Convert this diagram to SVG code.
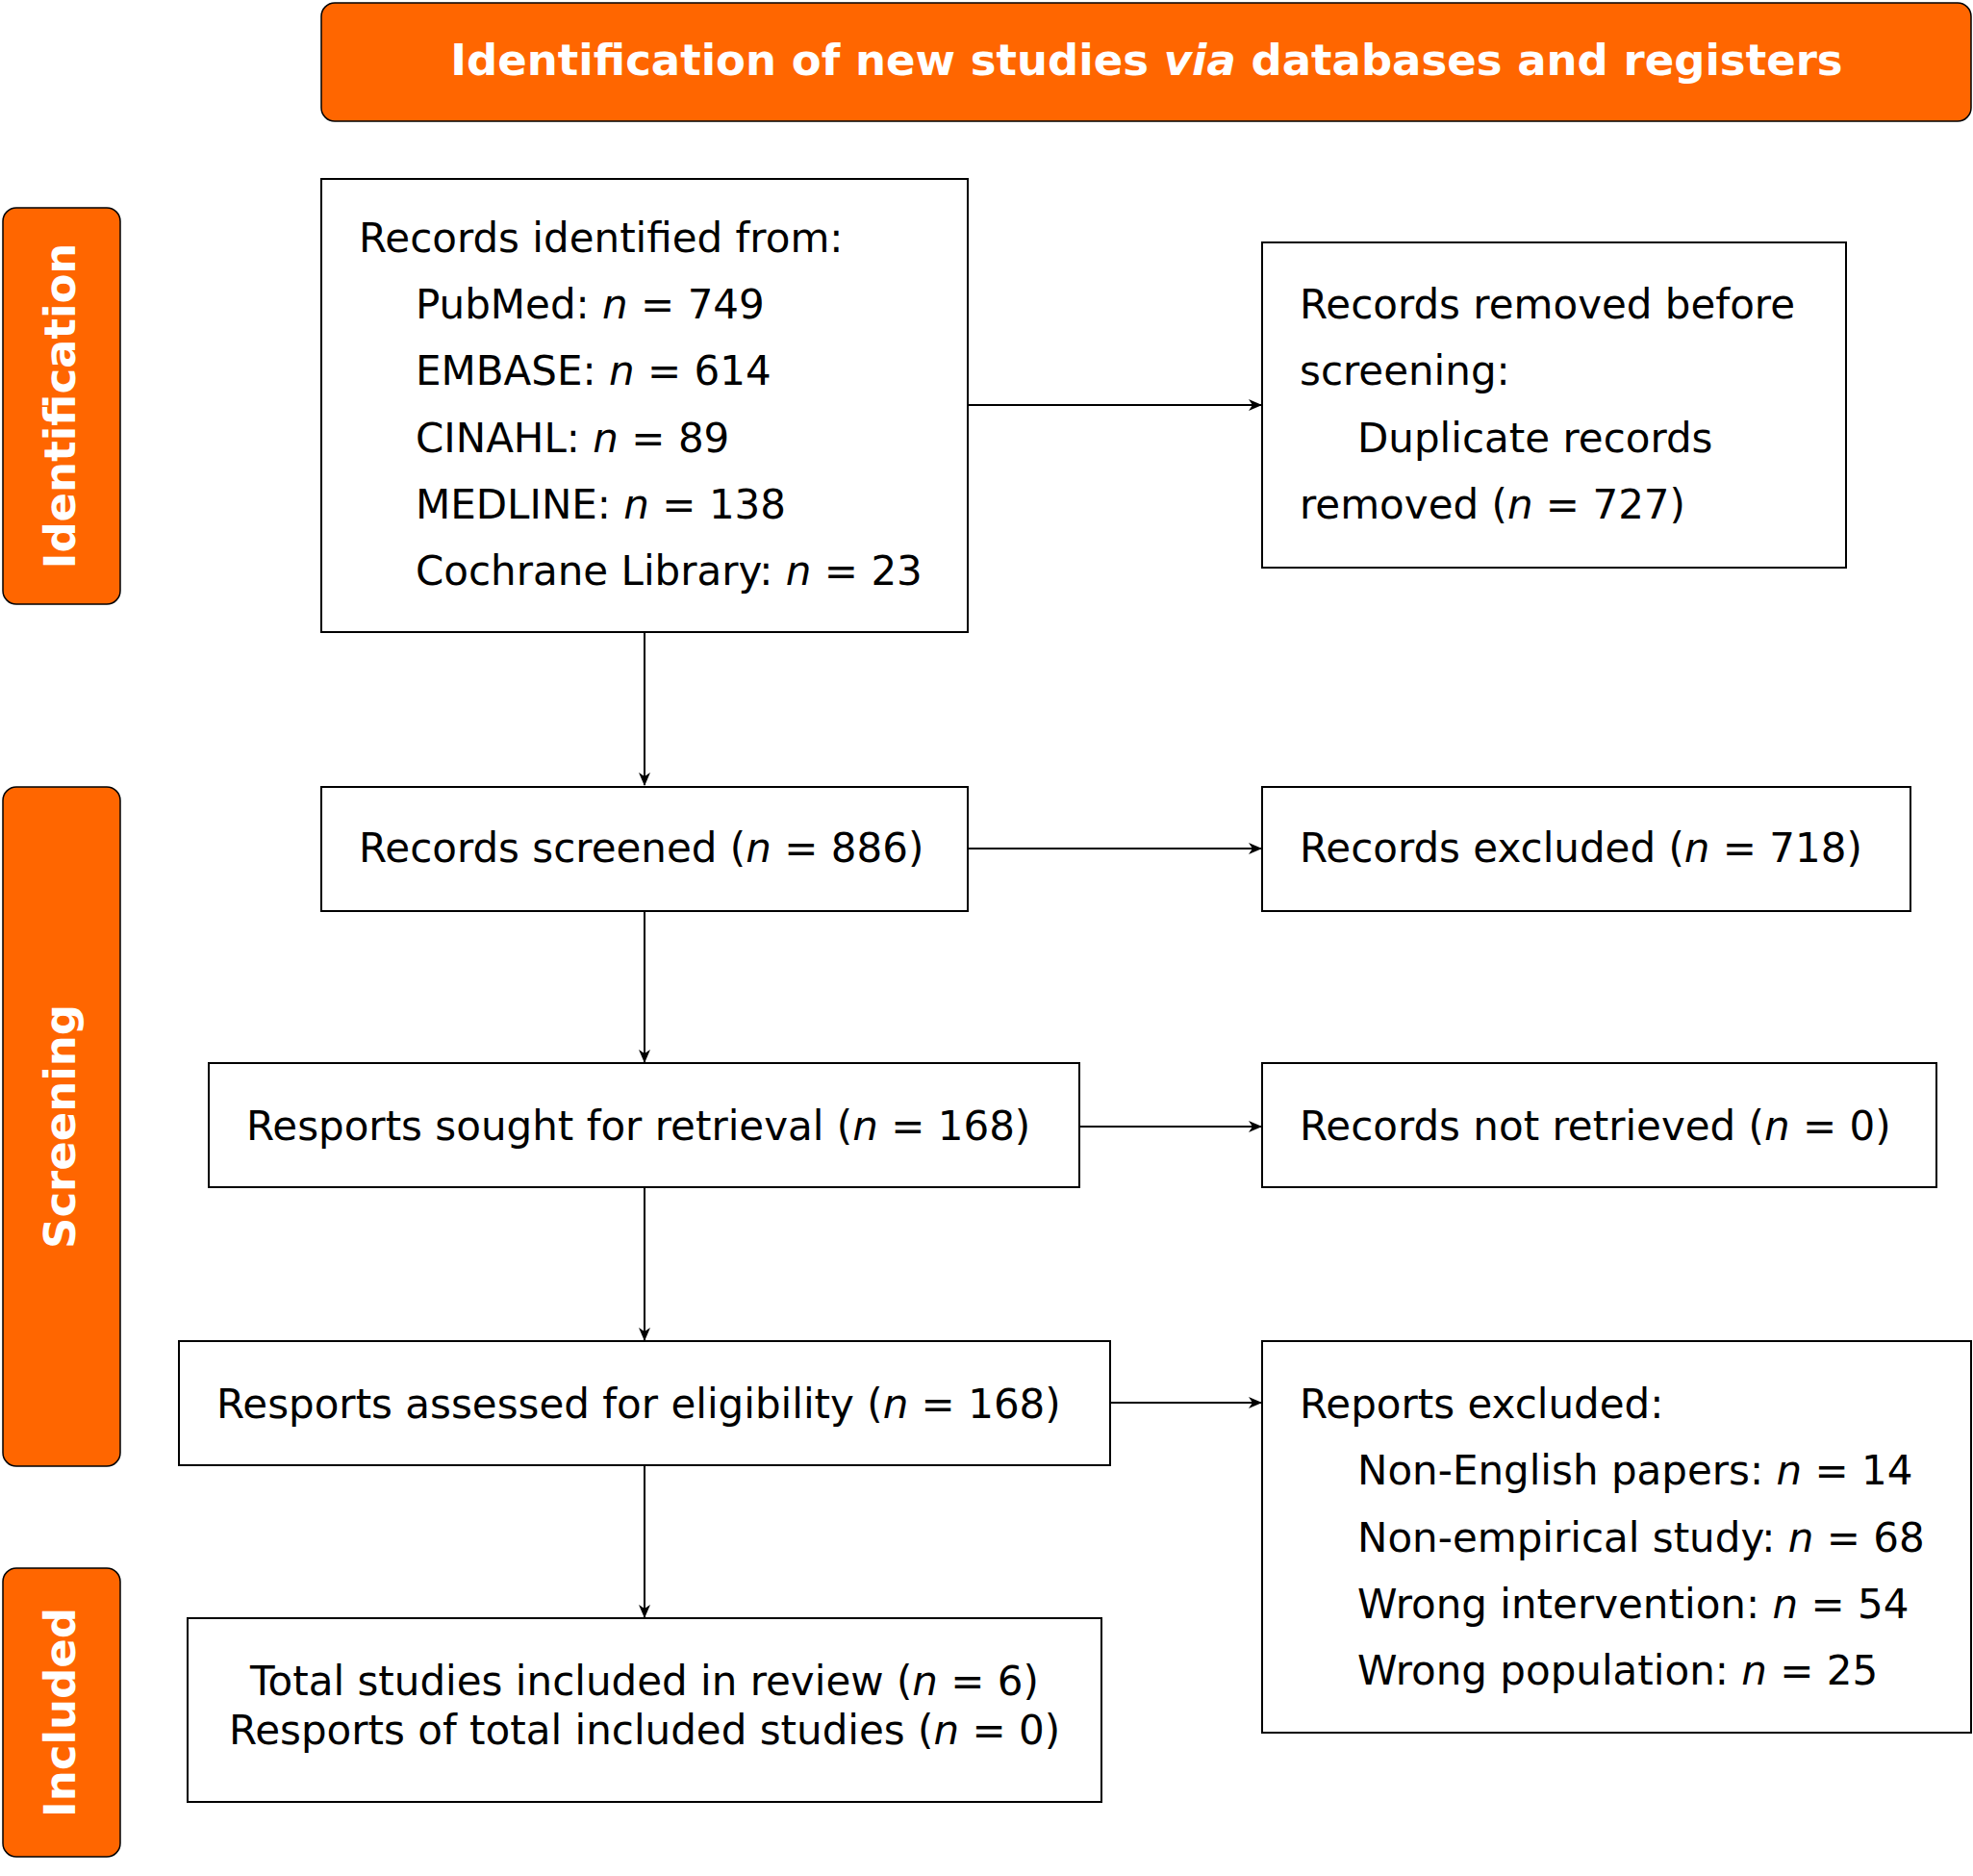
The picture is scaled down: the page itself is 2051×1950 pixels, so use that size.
<svg xmlns="http://www.w3.org/2000/svg" width="2051" height="1950" viewBox="0 0 2051 1950">
<style>
.b{fill:#fff;stroke:#000;stroke-width:2}
.o{fill:#FF6600;stroke:#000;stroke-width:1.5}
text{font-family:"DejaVu Sans",Verdana,sans-serif;font-size:42px;fill:#000}
.h{fill:#fff;font-weight:bold;font-size:45px}
.c{text-anchor:middle}
.i{font-style:italic}
.l{stroke:#000;stroke-width:2;fill:none;marker-end:url(#a)}
</style>
<defs><marker id="a" markerWidth="14" markerHeight="12" refX="13" refY="6" orient="auto" markerUnits="userSpaceOnUse"><path d="M0,0 L14,6 L0,12 L4,6 Z" fill="#000"/></marker></defs>
<g id="header"><rect class="o" x="334" y="3" width="1715" height="123" rx="14"/><text class="h c" x="1192" y="78">Identification of new studies <tspan class="i">via</tspan> databases and registers</text></g>
<g id="lbl-identification"><rect class="o" x="3" y="216" width="122" height="412" rx="14"/><text class="h c" transform="translate(78,422) rotate(-90)">Identification</text></g>
<g id="lbl-screening"><rect class="o" x="3" y="818" width="122" height="706" rx="14"/><text class="h c" transform="translate(78,1171) rotate(-90)">Screening</text></g>
<g id="lbl-included"><rect class="o" x="3" y="1630" width="122" height="300" rx="14"/><text class="h c" transform="translate(78,1780) rotate(-90)">Included</text></g>
<g id="identified"><rect class="b" x="334" y="186" width="672" height="471"/>
<text x="373" y="262">Records identified from:</text>
<text x="432" y="331">PubMed: <tspan class="i">n</tspan> = 749</text>
<text x="432" y="400">EMBASE: <tspan class="i">n</tspan> = 614</text>
<text x="432" y="470">CINAHL: <tspan class="i">n</tspan> = 89</text>
<text x="432" y="539">MEDLINE: <tspan class="i">n</tspan> = 138</text>
<text x="432" y="608">Cochrane Library: <tspan class="i">n</tspan> = 23</text></g>
<g id="removed"><rect class="b" x="1312" y="252" width="607" height="338"/>
<text x="1351" y="331">Records removed before</text>
<text x="1351" y="400">screening:</text>
<text x="1411" y="470">Duplicate records</text>
<text x="1351" y="539">removed (<tspan class="i">n</tspan> = 727)</text></g>
<g id="screened"><rect class="b" x="334" y="818" width="672" height="129"/><text x="373" y="896">Records screened (<tspan class="i">n</tspan> = 886)</text></g>
<g id="excluded"><rect class="b" x="1312" y="818" width="674" height="129"/><text x="1351" y="896">Records excluded (<tspan class="i">n</tspan> = 718)</text></g>
<g id="sought"><rect class="b" x="217" y="1105" width="905" height="129"/><text x="256" y="1185">Resports sought for retrieval (<tspan class="i">n</tspan> = 168)</text></g>
<g id="notretrieved"><rect class="b" x="1312" y="1105" width="701" height="129"/><text x="1351" y="1185">Records not retrieved (<tspan class="i">n</tspan> = 0)</text></g>
<g id="assessed"><rect class="b" x="186" y="1394" width="968" height="129"/><text x="225" y="1474">Resports assessed for eligibility (<tspan class="i">n</tspan> = 168)</text></g>
<g id="repexcluded"><rect class="b" x="1312" y="1394" width="737" height="407"/>
<text x="1351" y="1474">Reports excluded:</text>
<text x="1411" y="1543">Non-English papers: <tspan class="i">n</tspan> = 14</text>
<text x="1411" y="1613">Non-empirical study: <tspan class="i">n</tspan> = 68</text>
<text x="1411" y="1682">Wrong intervention: <tspan class="i">n</tspan> = 54</text>
<text x="1411" y="1751">Wrong population: <tspan class="i">n</tspan> = 25</text></g>
<g id="included"><rect class="b" x="195" y="1682" width="950" height="191"/>
<text class="c" x="670" y="1762">Total studies included in review (<tspan class="i">n</tspan> = 6)</text>
<text class="c" x="670" y="1813">Resports of total included studies (<tspan class="i">n</tspan> = 0)</text></g>
<g id="connectors">
<path class="l" d="M670,657V816"/><path class="l" d="M670,947V1104"/><path class="l" d="M670,1234V1393"/><path class="l" d="M670,1523V1681"/>
<path class="l" d="M1006,421H1311"/><path class="l" d="M1006,882H1311"/><path class="l" d="M1122,1171H1311"/><path class="l" d="M1154,1458H1311"/>
</g>
</svg>
